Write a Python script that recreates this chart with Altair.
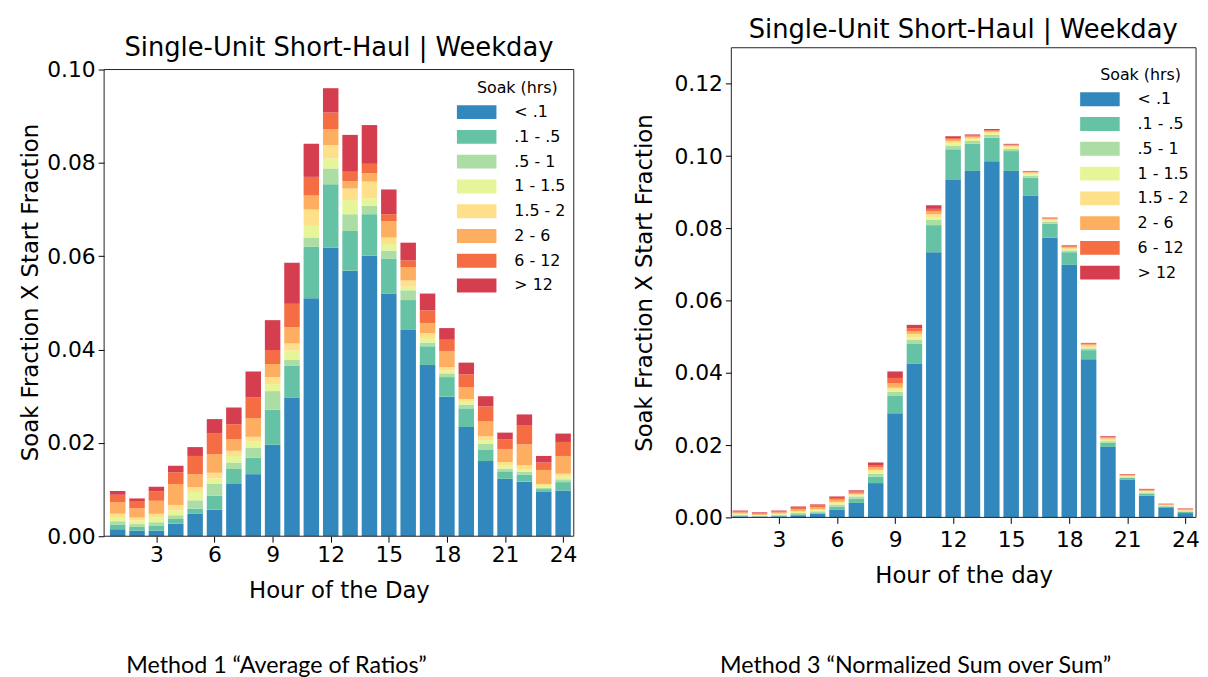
import altair as alt
import pandas as pd

hours = list(range(1, 25))
soak_labels = ["< .1", ".1 - .5", ".5 - 1", "1 - 1.5", "1.5 - 2", "2 - 6", "6 - 12", "> 12"]
soak_colors = ["#3288bd", "#66c2a5", "#abdda4", "#e6f598", "#fee08b", "#fdae61", "#f46d43", "#d53e4f"]

# Method 1 "Average of Ratios" -- one list per soak bin, hours 1..24
m1_lt_01 = [0.0015, 0.0012, 0.0012, 0.0027, 0.0048, 0.0057, 0.0112, 0.0133, 0.0196, 0.0297, 0.0510, 0.0618,
            0.0569, 0.0601, 0.0520, 0.0442, 0.0367, 0.0299, 0.0234, 0.0161, 0.0123, 0.0117, 0.0095, 0.0098]
m1_01_05 = [0.0010, 0.0008, 0.0010, 0.0010, 0.0011, 0.0030, 0.0032, 0.0035, 0.0075, 0.0068, 0.0110, 0.0136,
            0.0085, 0.0089, 0.0075, 0.0064, 0.0040, 0.0042, 0.0040, 0.0025, 0.0016, 0.0015, 0.0006, 0.0018]
m1_05_1 = [0.0007, 0.0006, 0.0008, 0.0008, 0.0018, 0.0025, 0.0014, 0.0021, 0.0040, 0.0013, 0.0020, 0.0034,
           0.0036, 0.0018, 0.0017, 0.0021, 0.0008, 0.0008, 0.0008, 0.0012, 0.0006, 0.0006, 0.0003, 0.0006]
m1_1_15 = [0.0009, 0.0008, 0.0010, 0.0010, 0.0018, 0.0012, 0.0014, 0.0014, 0.0015, 0.0020, 0.0025, 0.0022,
           0.0030, 0.0016, 0.0014, 0.0008, 0.0010, 0.0006, 0.0006, 0.0008, 0.0006, 0.0006, 0.0004, 0.0006]
m1_15_2 = [0.0007, 0.0006, 0.0008, 0.0012, 0.0010, 0.0012, 0.0011, 0.0010, 0.0015, 0.0015, 0.0035, 0.0028,
           0.0025, 0.0036, 0.0014, 0.0013, 0.0010, 0.0007, 0.0006, 0.0008, 0.0008, 0.0008, 0.0004, 0.0006]
m1_2_6 = [0.0025, 0.0020, 0.0028, 0.0045, 0.0028, 0.0040, 0.0025, 0.0040, 0.0028, 0.0035, 0.0030, 0.0034,
          0.0016, 0.0018, 0.0035, 0.0028, 0.0022, 0.0035, 0.0025, 0.0032, 0.0028, 0.0045, 0.0030, 0.0038]
m1_6_12 = [0.0016, 0.0014, 0.0020, 0.0025, 0.0039, 0.0045, 0.0032, 0.0045, 0.0030, 0.0050, 0.0040, 0.0036,
           0.0020, 0.0020, 0.0015, 0.0015, 0.0027, 0.0024, 0.0028, 0.0032, 0.0021, 0.0040, 0.0016, 0.0030]
m1_gt_12 = [0.0008, 0.0007, 0.0010, 0.0014, 0.0019, 0.0030, 0.0036, 0.0055, 0.0064, 0.0088, 0.0071, 0.0052,
            0.0079, 0.0083, 0.0053, 0.0038, 0.0036, 0.0025, 0.0025, 0.0022, 0.0014, 0.0024, 0.0014, 0.0018]

# Method 3 "Normalized Sum over Sum"
m3_lt_01 = [0.0003, 0.0002, 0.0003, 0.0006, 0.0010, 0.0022, 0.0040, 0.0095, 0.0288, 0.0425, 0.0734, 0.0934,
            0.0959, 0.0986, 0.0959, 0.0890, 0.0775, 0.0699, 0.0438, 0.0195, 0.0105, 0.0060, 0.0028, 0.0012]
m3_01_05 = [0.0002, 0.0001, 0.0002, 0.0003, 0.0004, 0.0008, 0.0012, 0.0018, 0.0048, 0.0055, 0.0075, 0.0085,
            0.0075, 0.0065, 0.0055, 0.0050, 0.0038, 0.0035, 0.0025, 0.0012, 0.0004, 0.0006, 0.0002, 0.0003]
m3_05_1 = [0.0002, 0.0001, 0.0002, 0.0003, 0.0003, 0.0005, 0.0006, 0.0008, 0.0012, 0.0012, 0.0015, 0.0010,
           0.0008, 0.0008, 0.0006, 0.0006, 0.0005, 0.0005, 0.0005, 0.0004, 0.0002, 0.0003, 0.0002, 0.0002]
m3_1_15 = [0.0002, 0.0002, 0.0002, 0.0003, 0.0003, 0.0004, 0.0003, 0.0006, 0.0005, 0.0006, 0.0007, 0.0006,
           0.0004, 0.0004, 0.0004, 0.0004, 0.0003, 0.0003, 0.0003, 0.0003, 0.0002, 0.0002, 0.0001, 0.0001]
m3_15_2 = [0.0002, 0.0001, 0.0002, 0.0003, 0.0003, 0.0004, 0.0003, 0.0005, 0.0006, 0.0010, 0.0008, 0.0006,
           0.0005, 0.0004, 0.0004, 0.0004, 0.0004, 0.0004, 0.0005, 0.0004, 0.0002, 0.0002, 0.0001, 0.0002]
m3_2_6 = [0.0003, 0.0003, 0.0003, 0.0005, 0.0005, 0.0006, 0.0004, 0.0007, 0.0012, 0.0008, 0.0008, 0.0005,
          0.0003, 0.0003, 0.0002, 0.0002, 0.0002, 0.0003, 0.0003, 0.0003, 0.0002, 0.0002, 0.0002, 0.0002]
m3_6_12 = [0.0003, 0.0002, 0.0003, 0.0004, 0.0005, 0.0005, 0.0004, 0.0006, 0.0015, 0.0008, 0.0007, 0.0004,
           0.0003, 0.0002, 0.0002, 0.0002, 0.0002, 0.0002, 0.0002, 0.0002, 0.0002, 0.0002, 0.0001, 0.0002]
m3_gt_12 = [0.0002, 0.0002, 0.0002, 0.0003, 0.0003, 0.0004, 0.0003, 0.0007, 0.0018, 0.0009, 0.0010, 0.0005,
            0.0003, 0.0003, 0.0002, 0.0001, 0.0001, 0.0002, 0.0002, 0.0002, 0.0001, 0.0002, 0.0001, 0.0001]

chart_title = "Single-Unit Short-Haul | Weekday"
y_title = "Soak Fraction X Start Fraction"
left_x_title = "Hour of the Day"
right_x_title = "Hour of the day"
left_caption = "Method 1 \u201cAverage of Ratios\u201d"
right_caption = "Method 3 \u201cNormalized Sum over Sum\u201d"
x_ticks = [3, 6, 9, 12, 15, 18, 21, 24]
left_y_ticks = [0.0, 0.02, 0.04, 0.06, 0.08, 0.10]
right_y_ticks = [0.0, 0.02, 0.04, 0.06, 0.08, 0.10, 0.12]
left_frame_top = 0.10
right_frame_top = 0.13


def long_frame(series):
    rows = []
    for idx, (lab, vals) in enumerate(zip(soak_labels, series)):
        for h, v in zip(hours, vals):
            rows.append({"hour": h, "soak": lab, "idx": idx, "value": v})
    return pd.DataFrame(rows)


df1 = long_frame([m1_lt_01, m1_01_05, m1_05_1, m1_1_15, m1_15_2, m1_2_6, m1_6_12, m1_gt_12])
df3 = long_frame([m3_lt_01, m3_01_05, m3_05_1, m3_1_15, m3_15_2, m3_2_6, m3_6_12, m3_gt_12])

FONT = "DejaVu Sans"


def panel(df, w, h, xdom, ymax, frame_top, yticks, xtitle, xlab_pad, xtitle_pad, ytitle_pad,
          caption, cap_x, cap_y, title_x, title_y, anchor_x, anchor_y, leg_x, leg_y):
    xscale = alt.Scale(domain=xdom, nice=False, zero=False)
    yscale = alt.Scale(domain=[0, ymax], nice=False)

    base = alt.Chart(df).transform_stack(
        stack="value", groupby=["hour"], as_=["y0", "y1"],
        sort=[alt.SortField("idx", order="ascending")]
    ).transform_calculate(xa="datum.hour - 0.4", xb="datum.hour + 0.4")

    bars = base.mark_bar(strokeWidth=0).encode(
        x=alt.X("xa:Q", scale=xscale,
                axis=alt.Axis(values=x_ticks, title=xtitle, format="d", grid=False,
                              domain=False, tickColor="#000", tickSize=6,
                              labelFont=FONT, labelFontSize=22, labelColor="#000",
                              labelPadding=xlab_pad,
                              titleFont=FONT, titleFontSize=23, titleFontWeight="normal",
                              titleColor="#000", titlePadding=xtitle_pad)),
        x2="xb:Q",
        y=alt.Y("y0:Q", scale=yscale,
                axis=alt.Axis(values=yticks, title=y_title, format=".2f", grid=False,
                              domain=False, tickColor="#000", tickSize=6,
                              labelFont=FONT, labelFontSize=22, labelColor="#000", labelPadding=3,
                              titleFont=FONT, titleFontSize=23, titleFontWeight="normal",
                              titleColor="#000", titlePadding=ytitle_pad)),
        y2="y1:Q",
        color=alt.Color("soak:N", scale=alt.Scale(domain=soak_labels, range=soak_colors),
                        legend=alt.Legend(title="Soak (hrs)", orient="none",
                                          legendX=leg_x, legendY=leg_y,
                                          symbolType="M-2.85,-1H2.85V1H-2.85Z",
                                          symbolSize=196, symbolStrokeWidth=0, symbolOpacity=1,
                                          labelFont=FONT, labelFontSize=16, labelColor="#000",
                                          labelOffset=30, rowPadding=9,
                                          titleFont=FONT, titleFontSize=16, titleFontWeight="normal",
                                          titleColor="#000", titleAnchor="middle", titlePadding=8,
                                          padding=0)),
    )

    # axes frame (matplotlib-style box) drawn in data units through the scales
    frame_df = pd.DataFrame({
        "fx1": [xdom[0], xdom[0], xdom[0], xdom[1]],
        "fx2": [xdom[1], xdom[0], xdom[1], xdom[1]],
        "fy1": [frame_top, 0.0, 0.0, 0.0],
        "fy2": [frame_top, frame_top, 0.0, frame_top],
    })
    frame = alt.Chart(frame_df).mark_rule(color="#222", strokeWidth=1).encode(
        x=alt.X("fx1:Q", scale=xscale), x2="fx2:Q",
        y=alt.Y("fy1:Q", scale=yscale), y2="fy2:Q")

    title_df = pd.DataFrame({"t": [chart_title]})
    title_txt = alt.Chart(title_df).mark_text(font=FONT, fontSize=26, color="#000",
                                              baseline="middle", align="center").encode(
        x=alt.value(title_x), y=alt.value(title_y), text="t:N")

    cap_df = pd.DataFrame({"t": [caption]})
    cap_txt = alt.Chart(cap_df).mark_text(font="Lato", fontSize=23.5, color="#000",
                                          baseline="middle", align="center").encode(
        x=alt.value(cap_x), y=alt.value(cap_y), text="t:N")

    anchor_df = pd.DataFrame({"t": ["."]})
    anchor = alt.Chart(anchor_df).mark_text(fontSize=4, opacity=0, baseline="top", align="left").encode(
        x=alt.value(anchor_x), y=alt.value(anchor_y), text="t:N")

    return alt.layer(bars, frame, title_txt, cap_txt, anchor).properties(width=w, height=h)


# left panel: view starts 22px above its frame so both panels share a top edge
left = panel(df1, 474, 493, [0.3, 24.55], 0.10 * 493 / 471, left_frame_top, left_y_ticks,
             left_x_title, 3, 14, 4, left_caption, 174, 624, 237, 0, -97, -37, 368, 33)
right = panel(df3, 469, 474, [0.54, 24.55], 0.13, right_frame_top, right_y_ticks,
              right_x_title, 6, 15, 18, right_caption, 186, 624, 234, -18, -100, -37, 364, 20)

chart = alt.hconcat(left, right, spacing=55).resolve_scale(color="independent").resolve_legend(
    color="independent").properties(padding=0).configure_view(stroke=None)

chart.save("out.html", embed_options={"renderer": "svg", "actions": False})
